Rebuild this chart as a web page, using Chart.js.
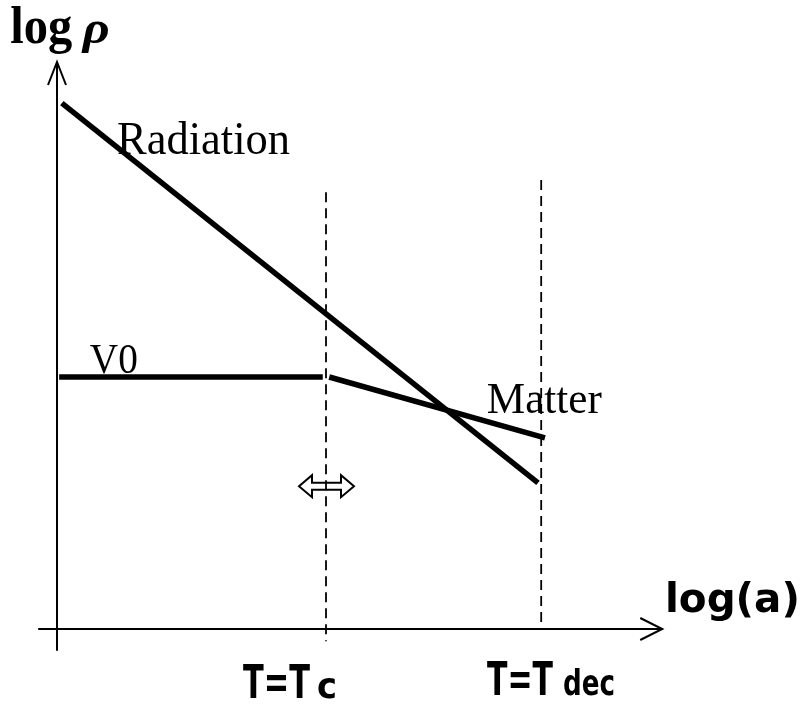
<!DOCTYPE html>
<html><head><meta charset="utf-8">
<script src="https://cdn.jsdelivr.net/npm/chart.js@4/dist/chart.umd.min.js"></script>
<style>html,body{margin:0;padding:0;background:#fff;} #wrap{width:811px;height:705px;position:relative;}</style>
</head><body><div id="wrap"><canvas id="c"></canvas></div>
<script>
// ---- data (arbitrary log units) ----
const radiationX = [0.09, 8.94];
const radiationY = [12.52, 3.48];
const v0X = [0.04, 4.94];
const v0Y = [6.0, 6.0];
const matterX = [5.06, 9.07];
const matterY = [6.0, 4.55];
const markerX = [5.0, 9.0];          // T = Tc, T = Tdec
const markerTop = [10.4, 10.69];
const markerBottom = [-0.29, 0.0];
const axisXExtent = [-0.35, 11.25];
const axisYExtent = [-0.52, 13.5];

const pts = (xs, ys) => xs.map((x, i) => ({x, y: ys[i]}));
const thick = {showLine: true, pointRadius: 0, borderColor: '#000', borderWidth: 5.5, fill: false};
const thin = {showLine: true, pointRadius: 0, borderColor: '#000', borderWidth: 2, fill: false};

const datasets = [
  Object.assign({label: 'x-axis', data: pts(axisXExtent, [0, 0])}, thin),
  Object.assign({label: 'y-axis', data: pts([0, 0], axisYExtent)}, thin),
  Object.assign({label: 'Tc', data: pts([markerX[0], markerX[0]], [markerTop[0], markerBottom[0]]), borderDash: [10, 6]}, thin, {borderWidth: 1.8}),
  Object.assign({label: 'Tdec', data: pts([markerX[1], markerX[1]], [markerTop[1], markerBottom[1]]), borderDash: [10, 6]}, thin, {borderWidth: 1.8}),
  Object.assign({label: 'Radiation', data: pts(radiationX, radiationY)}, thick),
  Object.assign({label: 'V0', data: pts(v0X, v0Y)}, thick),
  Object.assign({label: 'Matter', data: pts(matterX, matterY)}, thick)
];

const SERIF = '"Liberation Serif", "DejaVu Serif", serif';
const SANS = '"DejaVu Sans", "Liberation Sans", sans-serif';
const labels = [
  {text: 'log', x: -0.87, y: 13.95, font: 'bold 52px ' + SERIF, w: 62},
  {text: 'ρ', x: 0.48, y: 13.95, font: 'italic bold 46px ' + SERIF, w: 27},
  {text: 'Radiation', x: 1.115, y: 11.31, font: '47px ' + SERIF, w: 173},
  {text: 'V0', x: 0.61, y: 6.1, font: '42px ' + SERIF, w: 48},
  {text: 'Matter', x: 7.99, y: 5.14, font: '45px ' + SERIF, w: 115},
  {text: 'log(a)', x: 11.3, y: 0.4, font: 'bold 40px ' + SANS, w: 135},
  {text: 'T=T', x: 3.457, y: -1.64, font: 'bold 46px ' + SANS, w: 67},
  {text: 'c', x: 4.833, y: -1.64, font: 'bold 35px ' + SANS, w: 20},
  {text: 'T=T', x: 7.993, y: -1.57, font: 'bold 46px ' + SANS, w: 66},
  {text: 'dec', x: 9.405, y: -1.57, font: 'bold 35px ' + SANS, w: 52}
];

const decor = {
  id: 'decor',
  afterDatasetsDraw(chart) {
    const ctx = chart.ctx, sx = chart.scales.x, sy = chart.scales.y;
    ctx.save();
    ctx.strokeStyle = '#000'; ctx.fillStyle = '#000'; ctx.lineWidth = 2;
    // axis arrow heads (open chevrons)
    const ox = sx.getPixelForValue(0), tipY = sy.getPixelForValue(axisYExtent[1]);
    ctx.beginPath();
    ctx.moveTo(ox - 9, tipY + 23); ctx.lineTo(ox, tipY); ctx.lineTo(ox + 9, tipY + 23);
    ctx.stroke();
    const oy = sy.getPixelForValue(0), tipX = sx.getPixelForValue(axisXExtent[1]);
    ctx.beginPath();
    ctx.moveTo(tipX - 22, oy - 11); ctx.lineTo(tipX, oy); ctx.lineTo(tipX - 22, oy + 11);
    ctx.stroke();
    // hollow double arrow at Tc
    const cx = sx.getPixelForValue(markerX[0]) + 0.5, cy = sy.getPixelForValue(3.4);
    const L = 27.5, H = 13, hh = 11, sh = 3.5;
    ctx.beginPath();
    ctx.moveTo(cx - L, cy);
    ctx.lineTo(cx - L + H, cy - hh); ctx.lineTo(cx - L + H, cy - sh);
    ctx.lineTo(cx + L - H, cy - sh); ctx.lineTo(cx + L - H, cy - hh);
    ctx.lineTo(cx + L, cy);
    ctx.lineTo(cx + L - H, cy + hh); ctx.lineTo(cx + L - H, cy + sh);
    ctx.lineTo(cx - L + H, cy + sh); ctx.lineTo(cx - L + H, cy + hh);
    ctx.closePath();
    ctx.lineJoin = 'miter';
    ctx.stroke();
    // text labels
    ctx.textBaseline = 'alphabetic'; ctx.textAlign = 'left';
    labels.forEach(l => {
      ctx.font = l.font;
      const m = ctx.measureText(l.text).width;
      ctx.save();
      ctx.translate(sx.getPixelForValue(l.x), sy.getPixelForValue(l.y));
      ctx.scale(l.w / m, 1);
      ctx.fillText(l.text, 0, 0);
      ctx.restore();
    });
    ctx.restore();
  }
};

new Chart(document.getElementById('c'), {
  type: 'scatter',
  data: {datasets},
  options: {
    responsive: true, maintainAspectRatio: false, animation: false,
    layout: {padding: 0},
    plugins: {legend: {display: false}, tooltip: {enabled: false}},
    scales: {
      x: {type: 'linear', display: false, min: -1.0595, max: 14.015},
      y: {type: 'linear', display: false, min: -1.810, max: 14.976}
    }
  },
  plugins: [decor]
});
</script></body></html>
